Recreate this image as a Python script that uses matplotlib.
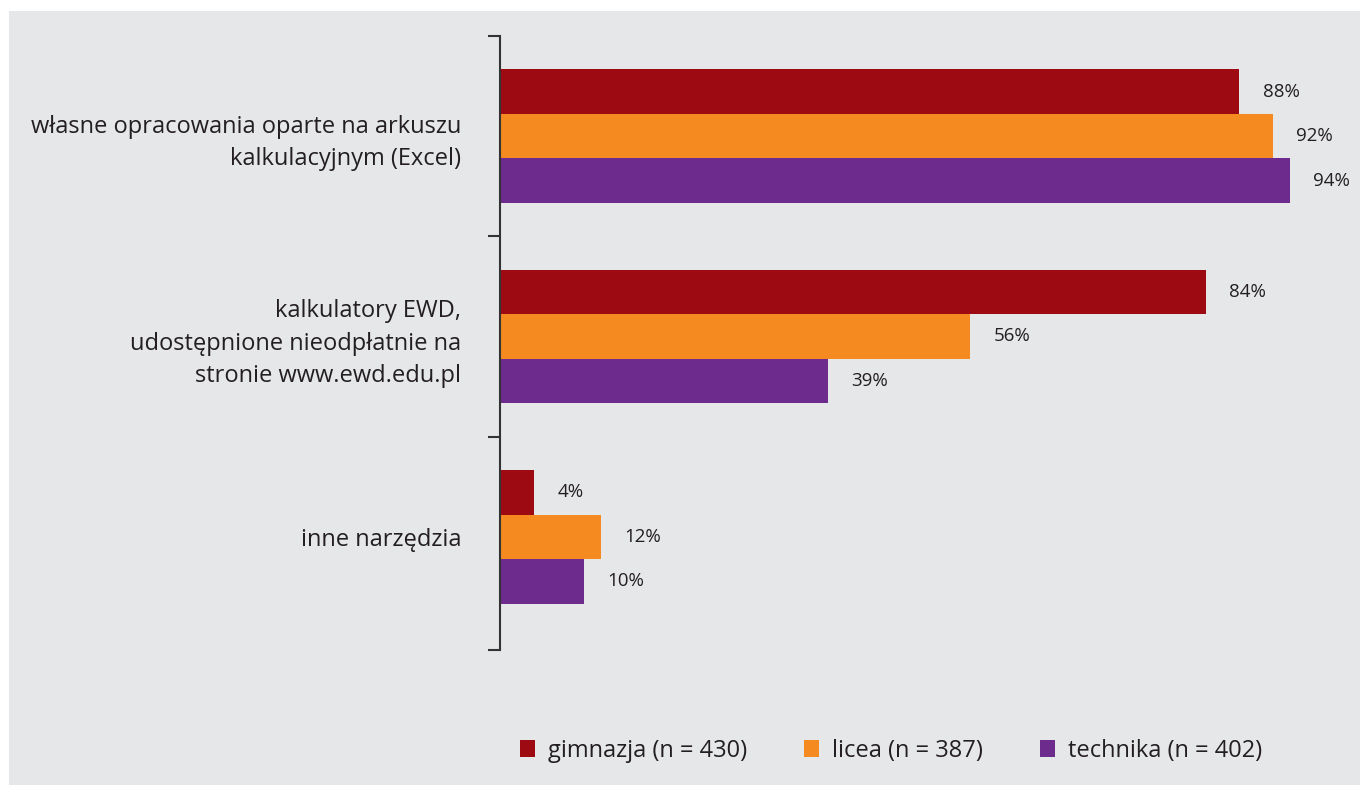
import matplotlib.pyplot as plt
from matplotlib.patches import Patch, Rectangle

categories = ["własne opracowania oparte na arkuszu\nkalkulacyjnym (Excel)",
              "kalkulatory EWD,\nudostępnione nieodpłatnie na\nstronie www.ewd.edu.pl",
              "inne narzędzia"]
series = ["gimnazja (n = 430)", "licea (n = 387)", "technika (n = 402)"]
gimnazja = [88, 84, 4]
licea = [92, 56, 12]
technika = [94, 39, 10]
colors = ["#9e0a11", "#f58b20", "#6d2b8e"]

plt.rcParams['font.family'] = ['Open Sans', 'DejaVu Sans']
txt = "#231f20"

fig = plt.figure(figsize=(13.65, 7.87), dpi=100)
fig.patch.set_facecolor("white")
fig.patches.append(Rectangle((9 / 1365, 2 / 787), 1351 / 1365, 774 / 787,
                             transform=fig.transFigure, facecolor="#e6e7e9",
                             edgecolor="none", zorder=-10))

ax = fig.add_axes([500 / 1365, 1 - 650 / 787, 840 / 1365, 614 / 787])
ax.set_facecolor("none")

h = 0.222
offs = [-h, 0, h]
for vals, off, c in zip([gimnazja, licea, technika], offs, colors):
    ys = [i + off for i in range(len(categories))]
    ax.barh(ys, vals, height=h, color=c, linewidth=0)
    for y, v in zip(ys, vals):
        ax.annotate(f"{v}%", (v, y), xytext=(17, 0), textcoords="offset points",
                    va="center", ha="left", fontsize=13.5, color=txt)

ax.set_xlim(0, 100)
ax.set_ylim(2.565, -0.5)
ax.set_xticks([])
ax.set_yticks(range(len(categories)))
ax.set_yticklabels(categories, fontsize=17, color=txt, linespacing=1.45)
ax.tick_params(axis="y", which="major", length=0, pad=28)
ax.set_yticks([-0.5, 0.5, 1.5, 2.565], minor=True)
ax.tick_params(axis="y", which="minor", length=9, width=1.5, color="#333333", direction="out")
for s in ["top", "right", "bottom"]:
    ax.spines[s].set_visible(False)
ax.spines["left"].set_linewidth(1.5)
ax.spines["left"].set_color("#333333")

handles = [Patch(facecolor=c, edgecolor="none") for c in colors]
fig.legend(handles, series, loc="center left", bbox_to_anchor=(508 / 1365, 1 - 751 / 787),
           ncol=3, frameon=False, fontsize=17, handlelength=0.65, handleheight=0.75,
           handletextpad=0.55, columnspacing=2.4, labelcolor=txt, borderpad=0)

fig.savefig("out.png", dpi=100)
